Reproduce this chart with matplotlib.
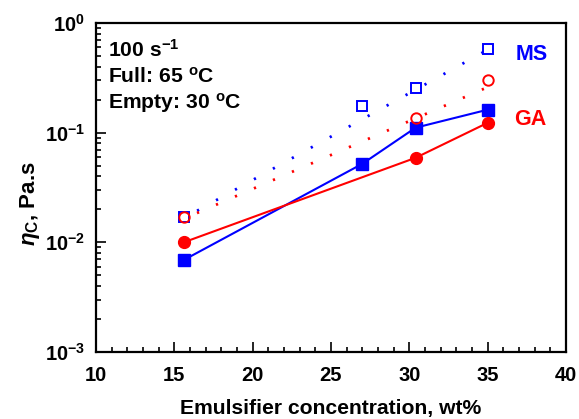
import matplotlib
matplotlib.use("Agg")
import matplotlib.pyplot as plt
import numpy as np
from matplotlib.ticker import FixedLocator, NullFormatter, LogLocator

plt.rcParams['font.family'] = ['Liberation Sans', 'DejaVu Sans']
plt.rcParams['font.weight'] = 'bold'
plt.rcParams['mathtext.fontset'] = 'custom'
plt.rcParams['mathtext.rm'] = 'Liberation Sans:bold'
plt.rcParams['mathtext.bf'] = 'Liberation Sans:bold'
plt.rcParams['mathtext.it'] = 'Liberation Sans:italic:bold'

# Data
conc_ms = [15.6, 27.0, 30.4, 35.0]
ms_filled = [0.0069, 0.052, 0.111, 0.162]
ms_open = [0.0169, 0.176, 0.257, 0.58]
conc_ga = [15.6, 30.4, 35.0]
ga_filled = [0.0100, 0.059, 0.123]
ga_open = [0.0169, 0.137, 0.30]
fit_x = [15.6, 35.0]
ms_fit = [0.0166, 0.57]
ga_fit = [0.0164, 0.26]

x_ticks = [10, 15, 20, 25, 30, 35, 40]
y_ticks = [1e-3, 1e-2, 1e-1, 1e0]
y_tick_labels = [r'$\mathbf{10^{-3}}$', r'$\mathbf{10^{-2}}$', r'$\mathbf{10^{-1}}$', r'$\mathbf{10^{0}}$']

BLUE = '#0000ff'
RED = '#ff0000'

fig = plt.figure(figsize=(5.79, 4.19), dpi=100)
ax = fig.add_axes([96/579, 1-352/419, (566-96)/579, (352-23)/419])
ax.set_yscale('log')
ax.set_xlim(10, 40)
ax.set_ylim(1e-3, 1e0)

# dotted fit lines
ax.plot(fit_x, ms_fit, color=BLUE, lw=2.0, linestyle=(2.3, (0.8, 7.0)), zorder=2)
ax.plot(fit_x, ga_fit, color=RED, lw=2.0, linestyle=(2.25, (0.8, 6.65)), zorder=2)

# solid series
ax.plot(conc_ms, ms_filled, color=BLUE, lw=1.5, marker='s', ms=8.5, zorder=3)
ax.plot(conc_ga, ga_filled, color=RED, lw=1.5, marker='o', ms=8.5, zorder=3)

# open markers
ax.plot(conc_ms, ms_open, linestyle='none', marker='s', ms=7.5, mfc='white',
        mec=BLUE, mew=1.4, zorder=4)
ax.plot(conc_ga, ga_open, linestyle='none', marker='o', ms=7.5, mfc='none',
        mec=RED, mew=1.4, zorder=5)

# ticks
ax.xaxis.set_major_locator(FixedLocator(x_ticks))
ax.xaxis.set_minor_locator(FixedLocator(np.arange(10, 40.01, 1)))
ax.set_xticklabels([str(t) for t in x_ticks])
ax.yaxis.set_major_locator(FixedLocator(y_ticks))
ax.yaxis.set_minor_locator(LogLocator(base=10, subs=np.arange(2, 10), numticks=20))
ax.yaxis.set_minor_formatter(NullFormatter())
ax.set_yticklabels(y_tick_labels)

ax.tick_params(which='both', direction='in', top=False, right=False, width=1.2)
ax.tick_params(which='major', length=7, labelsize=14.5, color='black')
ax.tick_params(which='minor', length=3.5)
ax.tick_params(axis='x', which='major', pad=10)
ax.tick_params(axis='y', which='major', pad=8)
for lab in ax.get_xticklabels() + ax.get_yticklabels():
    lab.set_fontweight('bold')
for sp in ax.spines.values():
    sp.set_linewidth(1.6)

ax.set_xlabel('Emulsifier concentration, wt%', fontsize=15.2, fontweight='bold', labelpad=10)
ax.set_ylabel(r'$\mathit{\eta}_{\mathbf{C}}$, Pa.s', fontsize=16, fontweight='bold')
ax.yaxis.set_label_coords(-0.115, 0.45)

ax.text(0.025, 0.8976, r'100 s$^{\mathbf{-1}}$', transform=ax.transAxes, fontsize=15.2,
        fontweight='bold', va='baseline', ha='left')
ax.text(0.025, 0.8176, r'Full: 65 $^{\mathbf{o}}$C', transform=ax.transAxes, fontsize=15.2,
        fontweight='bold', va='baseline', ha='left')
ax.text(0.025, 0.7386, r'Empty: 30 $^{\mathbf{o}}$C', transform=ax.transAxes, fontsize=15.2,
        fontweight='bold', va='baseline', ha='left')

ax.text(0.893, 0.903, 'MS', transform=ax.transAxes, fontsize=15.5, fontweight='bold',
        color=BLUE, va='center', ha='left')
ax.text(0.889, 0.708, 'GA', transform=ax.transAxes, fontsize=15.5, fontweight='bold',
        color=RED, va='center', ha='left')

fig.savefig('out.png', dpi=100)
